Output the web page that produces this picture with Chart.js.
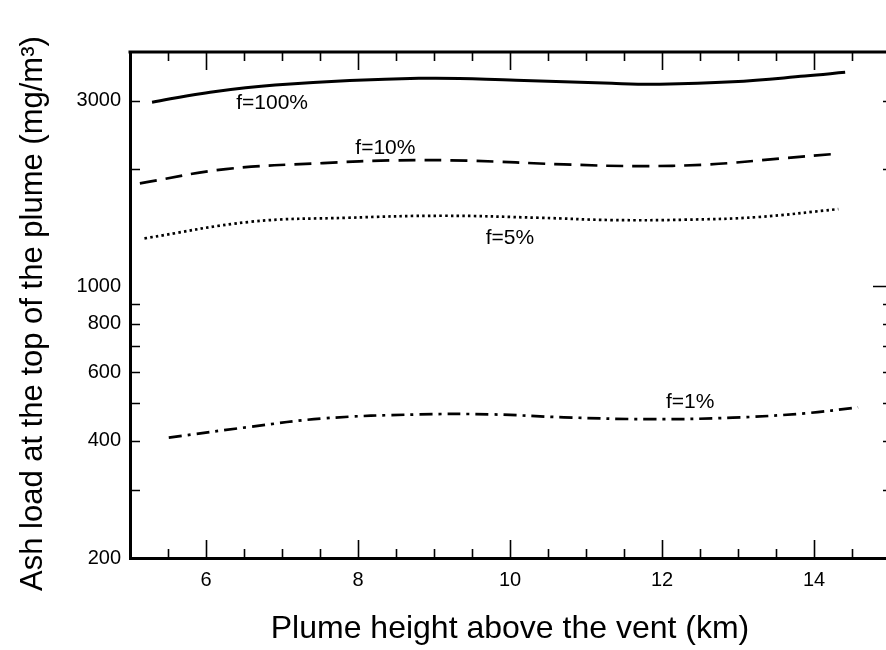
<!DOCTYPE html>
<html>
<head>
<meta charset="utf-8">
<script src="https://cdn.jsdelivr.net/npm/chart.js@4"></script>
<style>
  html, body { margin: 0; padding: 0; background: #fff; overflow: hidden; }
  #wrap { width: 886px; height: 650px; overflow: hidden; }
</style>
</head>
<body>
<div id="wrap"><canvas id="chart" width="896" height="650"></canvas></div>
<script>
// plume height (km) and ash load (mg/m3)
const f100X = [5.29, 5.95, 6.91, 8.80, 10.08, 11.34, 11.97, 12.93, 13.88, 14.41]
const f100Y = [2972, 3130, 3288, 3422, 3386, 3322, 3307, 3354, 3468, 3546]

const f10X = [5.13, 6.26, 7.54, 8.49, 9.44, 10.71, 11.66, 12.61, 13.57, 14.25]
const f10Y = [1838, 2000, 2072, 2106, 2102, 2056, 2036, 2056, 2130, 2186]

const f5X = [5.19, 6.59, 7.86, 9.12, 10.39, 11.34, 12.30, 13.25, 14.32]
const f5Y = [1327, 1464, 1499, 1517, 1499, 1479, 1482, 1505, 1578]

const f1X = [5.51, 6.59, 7.54, 8.80, 9.76, 10.71, 11.85, 12.93, 13.88, 14.58]
const f1Y = [408, 435, 457, 468, 468, 460, 455, 459, 471, 488]

// curve labels, anchored in data space
const curveLabels = ['f=100%', 'f=10%', 'f=5%', 'f=1%']
const curveLabelX = [6.87, 8.36, 10.0, 12.37]
const curveLabelY = [2957, 2265, 1329, 504]

const xTickLabels = [6, 8, 10, 12, 14]
const yTickLabels = [200, 400, 600, 800, 1000, 3000]
const yMinorTicks = [300, 400, 500, 600, 700, 800, 900, 2000, 3000]

const FONT = "'Liberation Sans', Arial, Helvetica, sans-serif"

function pts(xs, ys) {
    return xs.map((x, i) => ({x: x, y: ys[i]}))
}

function series(label, xs, ys, dash) {
    return {
        label: label,
        data: pts(xs, ys),
        borderColor: '#000',
        borderWidth: dash.length ? 2.7 : 3,
        borderDash: dash,
        pointRadius: 0,
        fill: false,
        tension: 0.4
    }
}

// inward tick marks, top frame line and the f= labels
const framePlugin = {
    id: 'frame',
    afterDatasetsDraw(chart) {
        const ctx = chart.ctx
        const a = chart.chartArea
        const xs = chart.scales.x
        const ys = chart.scales.y
        ctx.save()
        ctx.strokeStyle = '#000'

        ctx.lineWidth = 3
        ctx.beginPath()
        ctx.moveTo(a.left - 1.5, a.top)
        ctx.lineTo(a.right + 1.5, a.top)
        ctx.moveTo(a.right, a.top)
        ctx.lineTo(a.right, a.bottom)
        ctx.stroke()

        ctx.lineWidth = 1.6
        ctx.beginPath()
        for (let v = 5.5; v < 15; v += 0.5) {
            const px = Math.round(xs.getPixelForValue(v)) + 0.5
            const len = (v % 2 === 0) ? 18 : 9
            ctx.moveTo(px, a.bottom)
            ctx.lineTo(px, a.bottom - len)
            ctx.moveTo(px, a.top)
            ctx.lineTo(px, a.top + len)
        }
        yMinorTicks.forEach(v => {
            const py = Math.round(ys.getPixelForValue(v)) + 0.5
            ctx.moveTo(a.left, py)
            ctx.lineTo(a.left + 10, py)
            ctx.moveTo(a.right, py)
            ctx.lineTo(a.right - 7, py)
        })
        const p1000 = Math.round(ys.getPixelForValue(1000)) + 0.5
        ctx.moveTo(a.right, p1000)
        ctx.lineTo(a.right - 17, p1000)
        ctx.stroke()

        ctx.fillStyle = '#000'
        ctx.font = '21px ' + FONT
        ctx.textAlign = 'center'
        ctx.textBaseline = 'middle'
        curveLabels.forEach((t, i) => {
            ctx.fillText(t, xs.getPixelForValue(curveLabelX[i]), ys.getPixelForValue(curveLabelY[i]))
        })
        ctx.restore()
    }
}

new Chart(document.getElementById('chart'), {
    type: 'line',
    data: {
        datasets: [
            series('f=100%', f100X, f100Y, []),
            series('f=10%', f10X, f10Y, [17, 9]),
            series('f=5%', f5X, f5Y, [2.5, 3.2]),
            series('f=1%', f1X, f1Y, [13, 6, 3, 6])
        ]
    },
    options: {
        responsive: false,
        animation: false,
        devicePixelRatio: 1,
        layout: {padding: {top: 52, right: 6, left: 0, bottom: 0}},
        plugins: {legend: {display: false}, tooltip: {enabled: false}},
        scales: {
            x: {
                type: 'linear',
                min: 5,
                max: 15,
                afterFit: s => { s.height = 92 },
                afterBuildTicks: s => { s.ticks = xTickLabels.map(v => ({value: v})) },
                grid: {display: false, drawTicks: false},
                border: {display: true, color: '#000', width: 3},
                ticks: {color: '#000', font: {family: FONT, size: 20}, padding: 10, maxRotation: 0,
                        callback: v => String(v)},
                title: {display: true, text: 'Plume height above the vent (km)', color: '#000',
                        font: {family: FONT, size: 32}, padding: {top: 0, bottom: 2}}
            },
            y: {
                type: 'logarithmic',
                min: 200,
                max: 4000,
                afterFit: s => { s.width = 130 },
                afterBuildTicks: s => { s.ticks = yTickLabels.map(v => ({value: v})) },
                grid: {display: false, drawTicks: false},
                border: {display: true, color: '#000', width: 3},
                ticks: {color: '#000', font: {family: FONT, size: 20}, padding: 9,
                        callback: v => String(v)},
                title: {display: true, text: 'Ash load at the top of the plume (mg/m³)\u00a0\u00a0', color: '#000',
                        font: {family: FONT, size: 31}, padding: {top: 15, bottom: 0}}
            }
        }
    },
    plugins: [framePlugin]
})
</script>
</body>
</html>
